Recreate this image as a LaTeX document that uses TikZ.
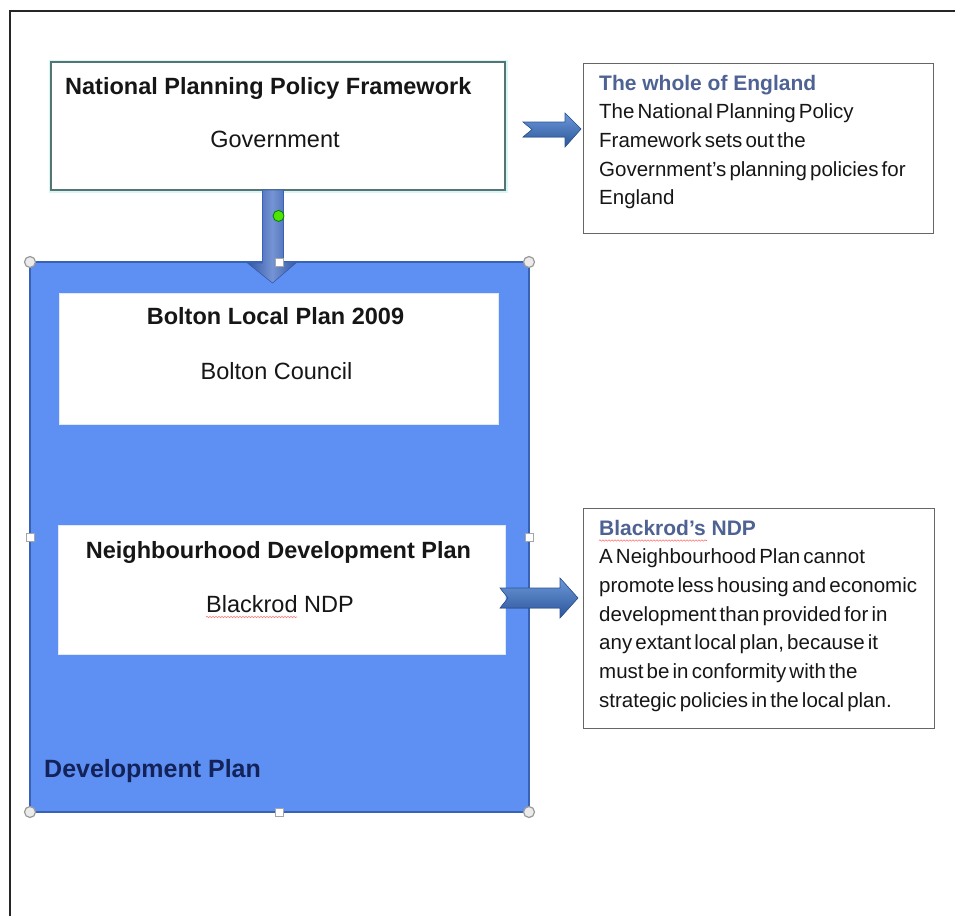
\documentclass[tikz,border=0pt]{standalone}
\usepackage{fontspec}
\setmainfont{Liberation Sans}
\newfontfamily\bodyf{Liberation Sans}[WordSpace=0.55]
\usetikzlibrary{calc,decorations.pathmorphing}
\definecolor{devblue}{HTML}{5E90F3}
\definecolor{devline}{HTML}{3A62B4}
\definecolor{nppfline}{HTML}{557575}
\definecolor{glow}{HTML}{D8F6F6}
\definecolor{sideblue}{HTML}{4E6394}
\definecolor{txt}{HTML}{161616}
\definecolor{navy}{HTML}{14225A}
\definecolor{arrlight}{HTML}{6C98DA}
\definecolor{arrdark}{HTML}{2B5598}
\definecolor{shaftblue}{HTML}{3A66C2}
\tikzset{
  box/.style={rectangle, inner sep=0pt, outer sep=0pt},
  nppfbox/.style={box, draw=nppfline, line width=1.2pt, fill=white,
    preaction={draw=glow, line width=5pt}},
  infobox/.style={box, draw=black!60, line width=1pt, fill=white},
  devbox/.style={box, fill=devblue, draw=devline, line width=1.5pt},
  whitebox/.style={box, fill=white, draw=white!80!devblue, line width=1pt},
  hcirc/.style={circle, inner sep=0pt, minimum size=11pt, fill=white!92!black, draw=black!40, line width=1.2pt},
  hsq/.style={rectangle, inner sep=0pt, minimum size=8pt, fill=white, draw=black!35, line width=0.8pt},
  gcirc/.style={circle, inner sep=0pt, minimum size=11pt, fill=green!65!yellow!90!black, draw=green!50!black, line width=0.8pt},
  headtxt/.style={inner sep=0pt, anchor=base, text=txt, font=\fontsize{23.5}{28}\selectfont\bfseries},
  subtxt/.style={inner sep=0pt, anchor=base, text=txt, font=\fontsize{23.5}{28}\selectfont},
  sidettl/.style={inner sep=0pt, anchor=base west, text=sideblue, font=\fontsize{21}{28}\selectfont\bfseries},
  sidebody/.style={inner sep=0pt, anchor=north west, text=txt, align=left, font=\bodyf\fontsize{20.5}{28.7}\selectfont},
  blockarrow/.style={top color=arrlight, bottom color=arrdark, draw=arrdark, line width=0.6pt},
  downarrow/.style={left color=shaftblue!85!black, right color=shaftblue!85!black, middle color=shaftblue!70!white, draw=devline, line width=0.6pt},
  squig/.style={draw=red!75!white, line width=0.6pt, opacity=0.7,
    decorate, decoration={snake, segment length=3pt, amplitude=0.7pt}}
}
\newcommand{\topstrut}{\rule{0pt}{16pt}}
\begin{document}
\begin{tikzpicture}[x=1pt,y=-1pt]
\useasboundingbox (0,0) rectangle (955,916);
\fill[white] (0,0) rectangle (955,916);
\draw[line width=1.5pt, black!85] (10,916) -- (10,11) -- (955,11);

% boxes
\node[nppfbox, minimum width=454pt, minimum height=128pt] (nppf) at (278,126) {};
\node[infobox, minimum width=350pt, minimum height=170pt] (eng) at (758,148) {};
\node[devbox, minimum width=499pt, minimum height=550pt] (dev) at (279.5,537) {};
\node[whitebox, minimum width=439pt, minimum height=131pt] (blp) at (278.5,358.5) {};
\node[whitebox, minimum width=447pt, minimum height=129pt] (ndp) at (281.5,589.5) {};
\node[infobox, minimum width=351pt, minimum height=220pt] (bndp) at (758.5,618) {};

% texts
\node[inner sep=0pt, anchor=base west, text=txt, font=\fontsize{23.5}{28}\selectfont\bfseries] (nppft) at (65,94) {National Planning Policy Framework};
\node[subtxt] (gov) at (275,147) {Government};
\node[headtxt] (blpt) at (275.5,324) {Bolton Local Plan 2009};
\node[subtxt] (bc) at (276.5,379) {Bolton Council};
\node[headtxt] (ndpt) at (278.5,558) {Neighbourhood Development Plan};
\node[subtxt] (blk) at (280,612) {Blackrod NDP};
\node[inner sep=0pt, anchor=base west, text=navy, font=\fontsize{25}{28}\selectfont\bfseries] (devt) at (44,777) {Development Plan};

\node[sidettl] (engt) at (599,90.5) {The whole of England};
\node[sidebody] (engb) at (599,102.5) {\topstrut The National Planning Policy\\Framework sets out the\\Government’s planning policies for\\England};
\node[sidettl] (bndpt) at (599,535.5) {Blackrod’s NDP};
\node[sidebody] (bndpb) at (599,547.5) {\topstrut A Neighbourhood Plan cannot\\promote less housing and economic\\development than provided for in\\any extant local plan, because it\\must be in conformity with the\\strategic policies in the local plan.};

% spell-check marks
\draw[squig] ($(bndpt.base west)+(0,5)$) -- ++(108,0);
\draw[squig] ($(blk.base west)+(0,5)$) -- ++(91,0);

% block arrows
\coordinate (a1) at ($(eng.west)+(-2,-19)$);
\filldraw[blockarrow] (a1) -- ++(-16,-16) -- ++(0,9) -- ++(-42,0) -- ++(9,7.5) -- ++(-9,7.5) -- ++(42,0) -- ++(0,10) -- cycle;
\coordinate (a2) at ($(bndp.west)+(-5,-20)$);
\filldraw[blockarrow] (a2) -- ++(-18,-20) -- ++(0,10) -- ++(-60,0) -- ++(8,10) -- ++(-8,10) -- ++(60,0) -- ++(0,10) -- cycle;
\coordinate (a3) at ($(dev.north)+(-7,21)$);
\filldraw[downarrow] (a3) -- ++(-25,-20) -- ++(15,0) -- (nppf.south -| 262.5,0) -- (nppf.south -| 283.5,0) -- ++(0,72) -- ++(13.5,0) -- cycle;

% selection handles
\node[gcirc] (rot) at ($(nppf.south)!0.36!(dev.north)$) {};
\foreach \a in {north west, north east, south west, south east}
  \node[hcirc] at (dev.\a) {};
\foreach \a in {north, south, west, east}
  \node[hsq] at (dev.\a) {};
\end{tikzpicture}
\end{document}
